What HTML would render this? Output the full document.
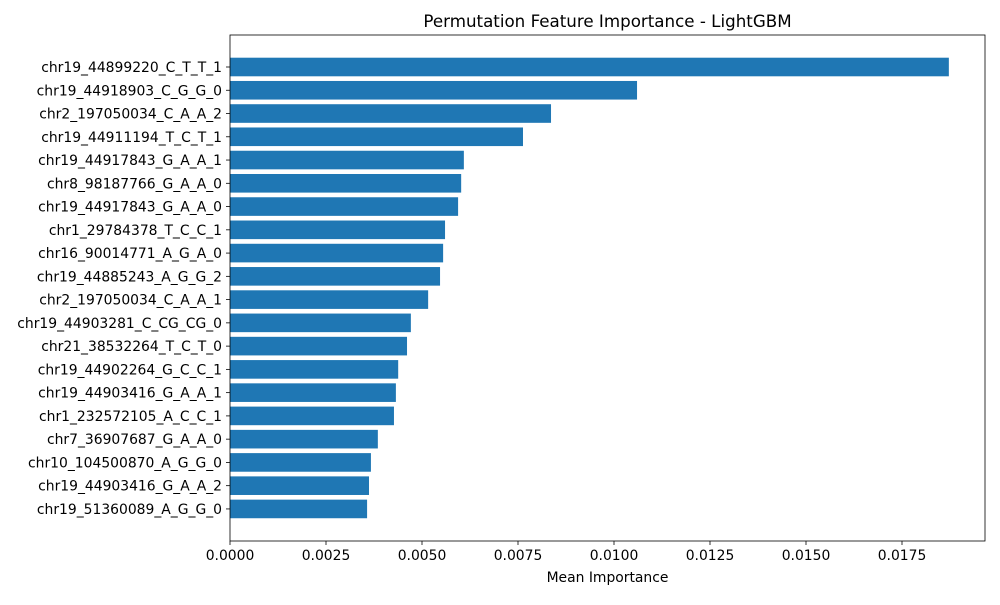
<!DOCTYPE html>
<html><head><meta charset="utf-8"><style>
body{margin:0;background:#fff;}
svg text{font-family:"DejaVu Sans","Liberation Sans",sans-serif;fill:#000;}
</style></head><body>
<svg id="chart" width="1000" height="600"></svg>
<script>
const features=["chr19_44899220_C_T_T_1","chr19_44918903_C_G_G_0","chr2_197050034_C_A_A_2","chr19_44911194_T_C_T_1","chr19_44917843_G_A_A_1","chr8_98187766_G_A_A_0","chr19_44917843_G_A_A_0","chr1_29784378_T_C_C_1","chr16_90014771_A_G_A_0","chr19_44885243_A_G_G_2","chr2_197050034_C_A_A_1","chr19_44903281_C_CG_CG_0","chr21_38532264_T_C_T_0","chr19_44902264_G_C_C_1","chr19_44903416_G_A_A_1","chr1_232572105_A_C_C_1","chr7_36907687_G_A_A_0","chr10_104500870_A_G_G_0","chr19_44903416_G_A_A_2","chr19_51360089_A_G_G_0"];
const importances=[0.01872,0.01060,0.00836,0.00763,0.00609,0.00602,0.00594,0.00560,0.00555,0.00547,0.00516,0.00471,0.00461,0.00438,0.00432,0.00427,0.00385,0.00367,0.00362,0.00357];
const xTicks=[0,0.0025,0.005,0.0075,0.01,0.0125,0.015,0.0175];
const xTickLabels=["0.0000","0.0025","0.0050","0.0075","0.0100","0.0125","0.0150","0.0175"];

const L=230,R=985,T=35,B=541;
const xScale=v=>L+v*38400;
const step=23.26, barH=18.6;
const yScale=i=>67+i*step;
const svg=document.getElementById('chart');
const NS='http://www.w3.org/2000/svg';
function mk(tag,attrs,txt){const e=document.createElementNS(NS,tag);for(const k in attrs)e.setAttribute(k,attrs[k]);if(txt!==undefined)e.textContent=txt;svg.appendChild(e);return e;}

features.forEach((f,i)=>{
  const r=mk('rect',{x:L,y:yScale(i)-barH/2,width:xScale(importances[i])-L,height:barH,fill:'#1f77b4'});
  
  
  mk('line',{x1:L-4,x2:L,y1:yScale(i),y2:yScale(i),stroke:'#000','stroke-width':0.8});
  const t=mk('text',{x:L-8,y:yScale(i)+5,'text-anchor':'end','font-size':13.9},f);
  
  
});
xTicks.forEach((v,i)=>{
  const x=xScale(v);
  mk('line',{x1:x,x2:x,y1:B,y2:B+4,stroke:'#000','stroke-width':0.8});
  const t=mk('text',{x:x,y:B+19,'text-anchor':'middle','font-size':13.9},xTickLabels[i]);
  
  
});
const frame=mk('rect',{x:L,y:T,width:R-L,height:B-T,fill:'none',stroke:'#000','stroke-width':0.8});


const xt=mk('text',{x:(L+R)/2,y:582,'text-anchor':'middle','font-size':13.9},'Mean Importance');


const tt=mk('text',{x:(L+R)/2,y:27,'text-anchor':'middle','font-size':16.7},'Permutation Feature Importance - LightGBM');


</script>
</body></html>
